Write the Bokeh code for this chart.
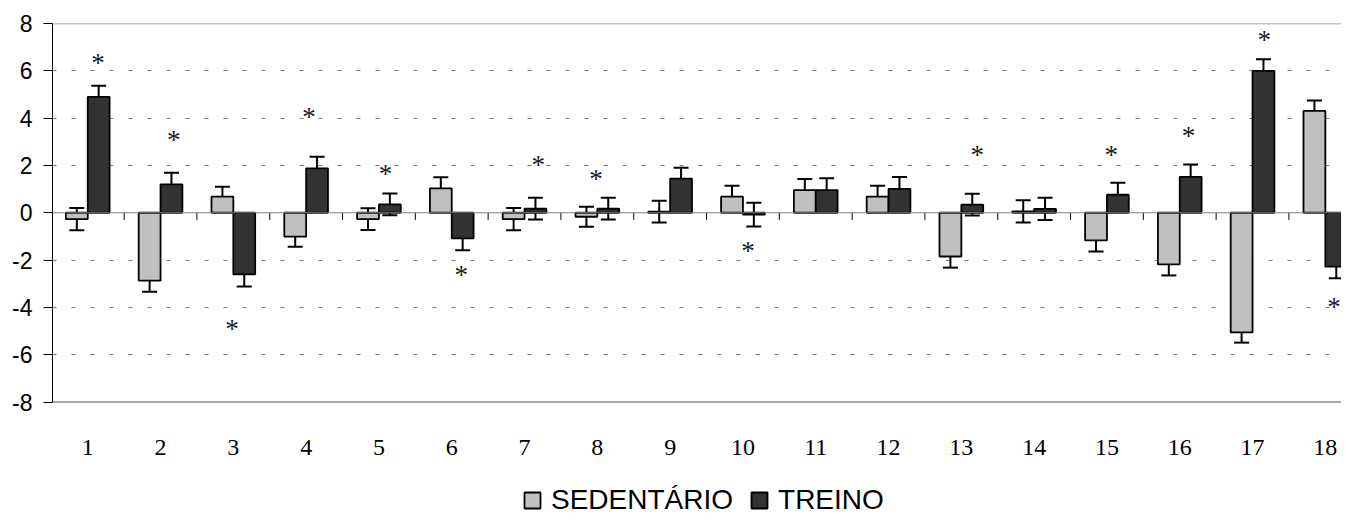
from bokeh.plotting import figure
from bokeh.models import (Range1d, FixedTicker, Span, Whisker, TeeHead, ColumnDataSource,
                          Legend, LegendItem)
from bokeh.core.properties import value
from bokeh.embed import file_html
from bokeh.resources import INLINE

categories = [str(i) for i in range(1, 19)]
sedentario = [-0.27, -2.87, 0.68, -1.01, -0.27, 1.03, -0.27, -0.17, 0.05,
              0.68, 0.96, 0.68, -1.85, 0.06, -1.17, -2.18, -5.06, 4.31]
sedentario_err = [0.47, 0.47, 0.42, 0.43, 0.46, 0.47, 0.47, 0.42, 0.46,
                  0.46, 0.47, 0.46, 0.47, 0.47, 0.47, 0.47, 0.43, 0.43]
treino = [4.9, 1.2, -2.6, 1.88, 0.35, -1.08, 0.17, 0.17, 1.44,
          -0.08, 0.96, 1.01, 0.34, 0.16, 0.76, 1.52, 6.0, -2.28]
treino_err = [0.47, 0.49, 0.52, 0.49, 0.46, 0.5, 0.46, 0.46, 0.46,
              0.5, 0.5, 0.5, 0.46, 0.47, 0.51, 0.52, 0.49, 0.49]
# significance markers (x in category units, y in data units)
ast_x = [0.64, 1.68, 2.48, 3.54, 4.59, 5.63, 6.69, 7.48, 9.57,
         12.72, 14.56, 15.62, 16.66, 17.62]
ast_y = [6.4, 3.15, -4.82, 4.13, 1.73, -2.54, 2.09, 1.5, -1.54,
         2.54, 2.54, 3.31, 7.4, -3.9]
y_ticks = [-8, -6, -4, -2, 0, 2, 4, 6, 8]
grid_ticks = [-6, -4, -2, 2, 4, 6]
series_labels = ["SEDENTÁRIO", "TREINO"]

n = len(categories)
centers = [i + 0.5 for i in range(n)]
BW = 0.30
sed_src = ColumnDataSource(dict(
    x=[c - BW / 2 for c in centers], top=sedentario,
    up=[v + e for v, e in zip(sedentario, sedentario_err)],
    lo=[v - e for v, e in zip(sedentario, sedentario_err)]))
tre_src = ColumnDataSource(dict(
    x=[c + BW / 2 for c in centers], top=treino,
    up=[v + e for v, e in zip(treino, treino_err)],
    lo=[v - e for v, e in zip(treino, treino_err)]))

W, H = 1341, 514
LEFT = 52
TOP = 23
PX_PER_CAT = 72.8
PX_PER_UNIT = 378.5 / 16.0
X0 = 0.016
YMIN = 8 - (H - TOP) / PX_PER_UNIT
p = figure(width=W, height=H, output_backend="svg", toolbar_location=None,
           x_range=Range1d(X0, X0 + (W - LEFT) / PX_PER_CAT),
           y_range=Range1d(YMIN, 8),
           min_border_left=LEFT, min_border_right=0, min_border_top=TOP,
           min_border_bottom=0)
p.outline_line_color = None
p.background_fill_color = "white"
p.border_fill_color = "white"
p.xaxis.visible = False

# grid
p.xgrid.grid_line_color = None
p.ygrid.ticker = FixedTicker(ticks=grid_ticks)
p.ygrid.grid_line_color = "#7a7a7a"
p.ygrid.grid_line_dash = "4 15"
p.ygrid.grid_line_width = 1

# border lines top/bottom of plot area
for yv in (8, -8):
    p.add_layout(Span(location=yv, dimension="width", line_color="#8c8c8c", line_width=1.5))

# zero line with category separators
p.add_layout(Span(location=0, dimension="width", line_color="#808080", line_width=1.2))
p.segment(x0=list(range(1, n)), y0=[0] * (n - 1), x1=list(range(1, n)),
          y1=[-0.3] * (n - 1), line_color="black", line_width=1)

sed_r = p.vbar(x="x", top="top", bottom=0, width=BW, source=sed_src,
               fill_color="#c0c0c0", line_color="black", line_width=1.8)
tre_r = p.vbar(x="x", top="top", bottom=0, width=BW, source=tre_src,
               fill_color="#333333", line_color="black", line_width=1.8)

for src in (sed_src, tre_src):
    w = Whisker(base="x", upper="up", lower="lo", source=src,
                line_color="black", line_width=2,
                upper_head=TeeHead(size=15, line_width=2, line_color="black"),
                lower_head=TeeHead(size=15, line_width=2, line_color="black"))
    p.add_layout(w)

p.text(x=ast_x, y=ast_y, text=["*"] * len(ast_x), text_align="center",
       text_baseline="middle", y_offset=2, text_font=value("Liberation Serif"),
       text_font_size="27px", text_color="#1a1a1a")

# category labels below the plot area
p.text(x=centers, y=[-8] * n, text=categories, text_align="center",
       text_baseline="middle", y_offset=45, text_font=value("Liberation Serif"),
       text_font_size="24px", text_color="black")

ya = p.yaxis[0]
ya.ticker = FixedTicker(ticks=y_ticks)
ya.bounds = (-8, 8)
ya.major_label_overrides = {t: str(t) for t in y_ticks}
ya.axis_line_color = "black"
ya.axis_line_width = 1
ya.major_tick_in = 0
ya.major_tick_out = 9
ya.major_tick_line_color = "black"
ya.minor_tick_line_color = None
ya.major_label_standoff = 11
ya.major_label_text_font = "Liberation Sans"
ya.major_label_text_font_size = "23px"
ya.major_label_text_color = "black"

legend = Legend(items=[LegendItem(label=series_labels[0], renderers=[sed_r]),
                       LegendItem(label=series_labels[1], renderers=[tre_r])],
                orientation="horizontal", location=(470, -2),
                glyph_width=20, glyph_height=20, label_height=20,
                label_standoff=9, spacing=16, padding=0, margin=0,
                border_line_color=None, background_fill_alpha=0,
                label_text_font="Liberation Sans", label_text_font_size="28px",
                label_text_color="black")
p.add_layout(legend, "center")

open("out.html", "w").write(file_html(p, INLINE))
